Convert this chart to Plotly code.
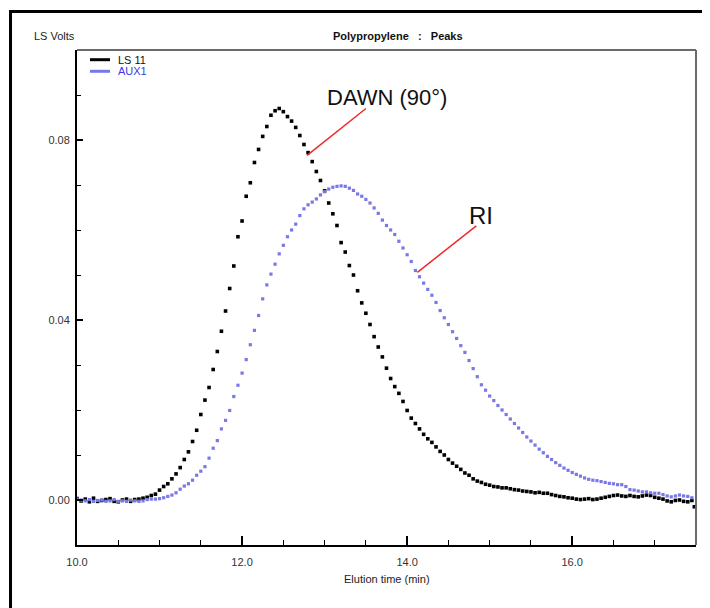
import plotly.graph_objects as go

# ---- data ----
ls11_t = [10.00, 10.05, 10.10, 10.15, 10.20, 10.25, 10.30, 10.35, 10.40, 10.45,
          10.50, 10.55, 10.60, 10.65, 10.70, 10.75, 10.80, 10.85, 10.90, 10.95,
          11.00, 11.05, 11.10, 11.15, 11.20, 11.25, 11.30, 11.35, 11.40, 11.45,
          11.50, 11.55, 11.60, 11.65, 11.70, 11.75, 11.80, 11.85, 11.90, 11.95,
          12.00, 12.05, 12.10, 12.15, 12.20, 12.25, 12.30, 12.35, 12.40, 12.45,
          12.50, 12.55, 12.60, 12.65, 12.70, 12.75, 12.80, 12.85, 12.90, 12.95,
          13.00, 13.05, 13.10, 13.15, 13.20, 13.25, 13.30, 13.35, 13.40, 13.45,
          13.50, 13.55, 13.60, 13.65, 13.70, 13.75, 13.80, 13.85, 13.90, 13.95,
          14.00, 14.05, 14.10, 14.15, 14.20, 14.25, 14.30, 14.35, 14.40, 14.45,
          14.50, 14.55, 14.60, 14.65, 14.70, 14.75, 14.80, 14.85, 14.90, 14.95,
          15.00, 15.05, 15.10, 15.15, 15.20, 15.25, 15.30, 15.35, 15.40, 15.45,
          15.50, 15.55, 15.60, 15.65, 15.70, 15.75, 15.80, 15.85, 15.90, 15.95,
          16.00, 16.05, 16.10, 16.15, 16.20, 16.25, 16.30, 16.35, 16.40, 16.45,
          16.50, 16.55, 16.60, 16.65, 16.70, 16.75, 16.80, 16.85, 16.90, 16.95,
          17.00, 17.05, 17.10, 17.15, 17.20, 17.25, 17.30, 17.35, 17.40, 17.45, 17.48]
ls11_v = [0.0003, -0.0002, 0.0002, -0.0004, 0.0004, -0.0003, -0.0001, 0.0001, 0.0003, -0.0003,
          -0.0004, 0.0000, 0.0002, -0.0003, 0.0001, 0.0002, 0.0004, 0.0006, 0.0010, 0.0013,
          0.0022, 0.0030, 0.0036, 0.0047, 0.0058, 0.0072, 0.0090, 0.0107, 0.0130, 0.0155,
          0.0190, 0.0222, 0.0250, 0.0290, 0.0330, 0.0375, 0.0420, 0.0470, 0.0520, 0.0585,
          0.0620, 0.0675, 0.0705, 0.0750, 0.0779, 0.0808, 0.0830, 0.0855, 0.0865, 0.0870,
          0.0863, 0.0852, 0.0842, 0.0828, 0.0810, 0.0790, 0.0772, 0.0752, 0.0730, 0.0710,
          0.0687, 0.0660, 0.0636, 0.0610, 0.0572, 0.0551, 0.0521, 0.0500, 0.0465, 0.0438,
          0.0415, 0.0390, 0.0363, 0.0340, 0.0318, 0.0293, 0.0270, 0.0252, 0.0237, 0.0219,
          0.0199, 0.0182, 0.0170, 0.0158, 0.0146, 0.0136, 0.0128, 0.0118, 0.0108, 0.0100,
          0.0090, 0.0082, 0.0075, 0.0068, 0.0060, 0.0055, 0.0047, 0.0042, 0.0039, 0.0035,
          0.0033, 0.0030, 0.0029, 0.0027, 0.0027, 0.0025, 0.0023, 0.0022, 0.0020, 0.0019,
          0.0018, 0.0016, 0.0017, 0.0015, 0.0015, 0.0012, 0.0010, 0.0008, 0.0007, 0.0005,
          0.0004, 0.0002, 0.0001, 0.0002, 0.0003, 0.0001, 0.0002, 0.0004, 0.0006, 0.0008,
          0.0010, 0.0011, 0.0009, 0.0008, 0.0010, 0.0008, 0.0007, 0.0009, 0.0011, 0.0010,
          0.0006, 0.0004, 0.0002, -0.0002, -0.0004, -0.0001, 0.0000, -0.0003, -0.0004, -0.0001, -0.0015]

aux1_t = [10.00, 10.05, 10.10, 10.15, 10.20, 10.25, 10.30, 10.35, 10.40, 10.45,
          10.50, 10.55, 10.60, 10.65, 10.70, 10.75, 10.80, 10.85, 10.90, 10.95,
          11.00, 11.05, 11.10, 11.15, 11.20, 11.25, 11.30, 11.35, 11.40, 11.45,
          11.50, 11.55, 11.60, 11.65, 11.70, 11.75, 11.80, 11.85, 11.90, 11.95,
          12.00, 12.05, 12.10, 12.15, 12.20, 12.25, 12.30, 12.35, 12.40, 12.45,
          12.50, 12.55, 12.60, 12.65, 12.70, 12.75, 12.80, 12.85, 12.90, 12.95,
          13.00, 13.05, 13.10, 13.15, 13.20, 13.25, 13.30, 13.35, 13.40, 13.45,
          13.50, 13.55, 13.60, 13.65, 13.70, 13.75, 13.80, 13.85, 13.90, 13.95,
          14.00, 14.05, 14.10, 14.15, 14.20, 14.25, 14.30, 14.35, 14.40, 14.45,
          14.50, 14.55, 14.60, 14.65, 14.70, 14.75, 14.80, 14.85, 14.90, 14.95,
          15.00, 15.05, 15.10, 15.15, 15.20, 15.25, 15.30, 15.35, 15.40, 15.45,
          15.50, 15.55, 15.60, 15.65, 15.70, 15.75, 15.80, 15.85, 15.90, 15.95,
          16.00, 16.05, 16.10, 16.15, 16.20, 16.25, 16.30, 16.35, 16.40, 16.45,
          16.50, 16.55, 16.60, 16.65, 16.70, 16.75, 16.80, 16.85, 16.90, 16.95,
          17.00, 17.05, 17.10, 17.15, 17.20, 17.25, 17.30, 17.35, 17.40, 17.45]
aux1_v = [0.0002, 0.0000, -0.0002, 0.0001, -0.0003, -0.0001, 0.0000, -0.0003, -0.0002, 0.0001,
          -0.0003, -0.0002, -0.0003, 0.0000, -0.0002, -0.0003, -0.0002, 0.0001, 0.0002, 0.0002,
          0.0003, 0.0005, 0.0008, 0.0011, 0.0016, 0.0024, 0.0031, 0.0036, 0.0044, 0.0055,
          0.0064, 0.0074, 0.0093, 0.0115, 0.0132, 0.0158, 0.0177, 0.0199, 0.0230, 0.0255,
          0.0282, 0.0312, 0.0345, 0.0377, 0.0410, 0.0447, 0.0478, 0.0502, 0.0524, 0.0547,
          0.0566, 0.0585, 0.0600, 0.0613, 0.0632, 0.0647, 0.0656, 0.0662, 0.0669, 0.0678,
          0.0685, 0.0691, 0.0695, 0.0697, 0.0698, 0.0697, 0.0693, 0.0688, 0.0680, 0.0675,
          0.0668, 0.0660, 0.0649, 0.0637, 0.0622, 0.0610, 0.0600, 0.0590, 0.0575, 0.0560,
          0.0545, 0.0530, 0.0510, 0.0496, 0.0482, 0.0468, 0.0455, 0.0439, 0.0421, 0.0405,
          0.0390, 0.0374, 0.0359, 0.0343, 0.0328, 0.0310, 0.0292, 0.0274, 0.0256, 0.0244,
          0.0231, 0.0221, 0.0210, 0.0200, 0.0190, 0.0180, 0.0170, 0.0160, 0.0150, 0.0140,
          0.0131, 0.0122, 0.0113, 0.0105, 0.0097, 0.0090, 0.0083, 0.0077, 0.0071, 0.0066,
          0.0061, 0.0057, 0.0053, 0.0049, 0.0046, 0.0044, 0.0043, 0.0041, 0.0039, 0.0037,
          0.0036, 0.0034, 0.0034, 0.0030, 0.0023, 0.0022, 0.0020, 0.0018, 0.0018, 0.0016,
          0.0015, 0.0015, 0.0012, 0.0009, 0.0007, 0.0009, 0.0011, 0.0009, 0.0008, 0.0005]

series_names = ["LS 11", "AUX1"]
x_ticks = [10.0, 12.0, 14.0, 16.0]
y_ticks = [0.00, 0.04, 0.08]

BLACK = "#000000"
BLUE_MARK = "#7878e6"
BLUE_TEXT = "#3a3ae6"
FONT = "Liberation Sans, Arial, sans-serif"

fig = go.Figure()
fig.add_trace(go.Scatter(x=ls11_t, y=ls11_v, mode="markers", name=series_names[0],
                         marker=dict(symbol="square", size=3.6, color=BLACK, line=dict(width=0)),
                         showlegend=False))
fig.add_trace(go.Scatter(x=aux1_t, y=aux1_v, mode="markers", name=series_names[1],
                         marker=dict(symbol="square", size=3.2, color=BLUE_MARK, line=dict(width=0)),
                         showlegend=False))

# the page body has an 8px margin, so the figure is offset by 8px inside the window
fig.update_layout(
    width=702, height=600,
    margin=dict(l=69, r=14, t=42, b=63),
    paper_bgcolor="white", plot_bgcolor="white",
    font=dict(family=FONT, size=11, color="#222222"),
    xaxis=dict(range=[10, 17.5], tickvals=x_ticks, ticktext=[f"{v:.1f}" for v in x_ticks],
               ticks="inside", ticklen=9, tickwidth=1.5, tickcolor="black",
               showline=True, linecolor="black", linewidth=2, mirror=False,
               showgrid=False, zeroline=False, ticklabelstandoff=6,
               minor=dict(dtick=0.5, tick0=10, ticks="inside", ticklen=5, tickwidth=1.2, tickcolor="black"),
               tickfont=dict(size=11, color="#333333")),
    yaxis=dict(range=[-0.01, 0.1], tickvals=y_ticks, ticktext=[f"{v:.2f}" for v in y_ticks],
               ticks="inside", ticklen=6, tickwidth=1.5, tickcolor="black",
               showline=True, linecolor="black", linewidth=2, mirror=False,
               showgrid=False, zeroline=False, ticklabelstandoff=3,
               minor=dict(dtick=0.01, tick0=0, ticks="inside", ticklen=4, tickwidth=1.2, tickcolor="black"),
               tickfont=dict(size=11, color="#333333")),
)

shapes = [
    # outer frame
    dict(type="rect", xref="paper", yref="paper", x0=-0.1074, x1=1.3, y0=-0.4, y1=1.0778,
         line=dict(color="black", width=3), fillcolor="rgba(0,0,0,0)", layer="above"),
    # grey top and right border of plot area
    dict(type="line", xref="paper", yref="paper", x0=0, x1=1, y0=1, y1=1,
         line=dict(color="#6a6a6a", width=2)),
    dict(type="line", xref="paper", yref="paper", x0=1, x1=1, y0=0, y1=1,
         line=dict(color="#6a6a6a", width=2)),
    # legend samples
    dict(type="line", xref="paper", yref="paper", x0=0.021, x1=0.0533, y0=0.9804, y1=0.9804,
         line=dict(color=BLACK, width=3)),
    dict(type="line", xref="paper", yref="paper", x0=0.021, x1=0.0533, y0=0.957, y1=0.957,
         line=dict(color="#7777ee", width=3)),
    # callout lines
    dict(type="line", xref="x", yref="y", x0=12.788, y0=0.0766, x1=13.501, y1=0.0870,
         line=dict(color="#ee2a2a", width=1.5)),
    dict(type="line", xref="x", yref="y", x0=14.124, y0=0.0506, x1=14.838, y1=0.0609,
         line=dict(color="#ee2a2a", width=1.5)),
]
fig.update_layout(shapes=shapes)

annotations = [
    dict(text="LS Volts", xref="paper", yref="paper", x=(32 - 77) / 619, y=(545 - 36) / 495,
         xanchor="left", yanchor="middle", showarrow=False, font=dict(size=11, color="#222222")),
    dict(text="<b>Polypropylene&nbsp;&nbsp;&nbsp;:&nbsp;&nbsp;&nbsp;Peaks</b>", xref="paper", yref="paper",
         x=(398 - 77) / 619, y=(545 - 36) / 495, xanchor="center", yanchor="middle",
         showarrow=False, font=dict(size=11, color="#111111")),
    dict(text="Elution time (min)", xref="paper", yref="paper", x=0.5, y=(545 - 579) / 495,
         xanchor="center", yanchor="middle", showarrow=False, font=dict(size=11, color="#222222")),
    dict(text=series_names[0], xref="paper", yref="paper", x=(116 - 77) / 619, y=(545 - 59.5) / 495,
         xanchor="left", yanchor="middle", showarrow=False, font=dict(size=11, color="#111111")),
    dict(text=series_names[1], xref="paper", yref="paper", x=(116 - 77) / 619, y=(545 - 71.5) / 495,
         xanchor="left", yanchor="middle", showarrow=False, font=dict(size=11, color=BLUE_TEXT)),
    dict(text="DAWN (90°)", xref="x", yref="y", x=13.758, y=0.0895,
         xanchor="center", yanchor="middle", showarrow=False,
         font=dict(family=FONT, size=22, color="#111111")),
    dict(text="RI", xref="x", yref="y", x=14.891, y=0.0632,
         xanchor="center", yanchor="middle", showarrow=False,
         font=dict(family=FONT, size=24, color="#111111")),
]
fig.update_layout(annotations=annotations)

fig.write_html("out.html", config={"displayModeBar": False})
